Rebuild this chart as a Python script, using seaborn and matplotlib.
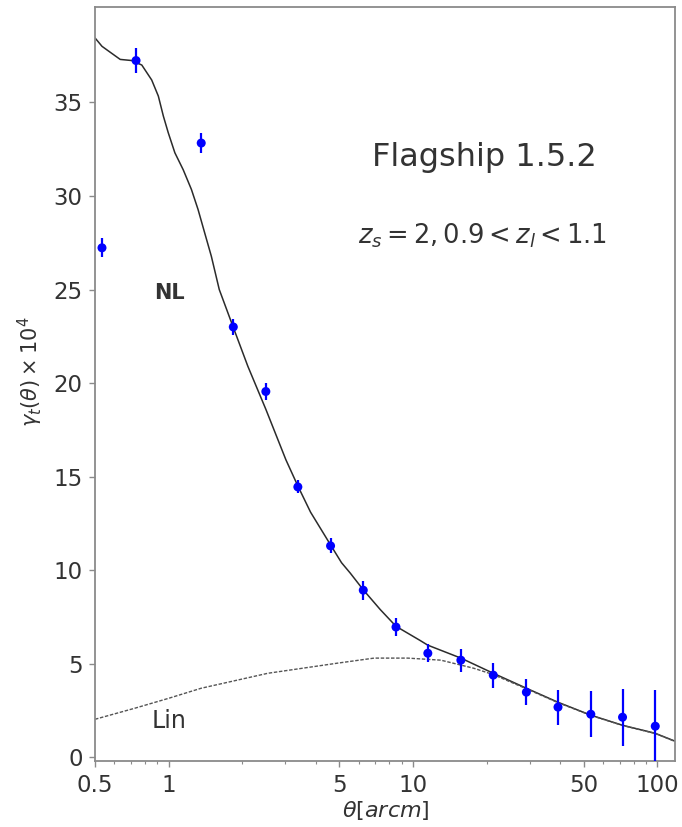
import numpy as np
import pandas as pd
import matplotlib
matplotlib.use("Agg")
import matplotlib.pyplot as plt
from matplotlib.ticker import FixedLocator, FixedFormatter, NullFormatter
import seaborn as sns

# Measured tangential shear (Flagship 1.5.2), theta in arcmin
theta_pts = [0.534, 0.736, 1.36, 1.84, 2.50, 3.38, 4.60, 6.26, 8.52,
             11.5, 15.7, 21.3, 29.1, 39.2, 53.4, 72.0, 98.0]
gamma_pts = [27.23, 37.24, 32.83, 23.0, 19.55, 14.45, 11.3, 8.93, 6.96,
             5.56, 5.19, 4.39, 3.48, 2.68, 2.30, 2.14, 1.66]
gamma_err = [0.50, 0.65, 0.55, 0.45, 0.45, 0.35, 0.40, 0.50, 0.50,
             0.49, 0.62, 0.67, 0.71, 0.94, 1.22, 1.52, 1.93]

# Non-linear model prediction
theta_nl = [0.5, 0.534, 0.569, 0.634, 0.707, 0.777, 0.853, 0.908, 0.952,
            0.997, 1.061, 1.148, 1.240, 1.320, 1.405, 1.496, 1.612, 1.837,
            2.11, 2.50, 3.02, 3.38, 3.81, 4.6, 5.1, 5.54, 6.26, 7.34, 8.52,
            10.67, 11.5, 15.7, 21.3, 29.1, 39.2, 53.4, 72.0, 98.0, 118.0]
gamma_nl = [38.45, 38.0, 37.74, 37.3, 37.24, 37.0, 36.2, 35.34, 34.27,
            33.38, 32.31, 31.4, 30.35, 29.28, 28.03, 26.78, 25.0, 23.0,
            20.9, 18.6, 15.9, 14.5, 13.1, 11.35, 10.4, 9.84, 8.95, 7.9, 7.0,
            6.25, 5.99, 5.30, 4.49, 3.69, 2.94, 2.25, 1.71, 1.28, 0.86]

# Linear model prediction
theta_lin = [0.5, 0.727, 1.0, 1.36, 2.55, 4.91, 6.93, 9.52, 13.0, 17.7,
             21.3, 29.1, 39.2, 53.4, 72.0, 98.0, 118.0]
gamma_lin = [2.03, 2.62, 3.15, 3.69, 4.49, 5.03, 5.3, 5.3, 5.19, 4.76,
             4.42, 3.66, 2.92, 2.24, 1.70, 1.27, 0.85]

x_ticks = [0.5, 1, 5, 10, 50, 100]
x_tick_labels = ["0.5", "1", "5", "10", "50", "100"]
y_ticks = [0, 5, 10, 15, 20, 25, 30, 35]

sns.set_style("white")
plt.rcParams["font.family"] = ["DejaVu Sans"]
plt.rcParams["mathtext.fontset"] = "dejavusans"

fig = plt.figure(figsize=(6.82, 8.27), dpi=100)
ax = fig.add_axes([0.1393, 0.0798, 0.8504, 0.9117])

df_nl = pd.DataFrame({"theta": theta_nl, "gamma": gamma_nl})
df_lin = pd.DataFrame({"theta": theta_lin, "gamma": gamma_lin})
df_pts = pd.DataFrame({"theta": theta_pts, "gamma": gamma_pts, "err": gamma_err})

sns.lineplot(data=df_nl, x="theta", y="gamma", ax=ax, color="#2b2b2b",
             linewidth=1.1, sort=False, estimator=None)
sns.lineplot(data=df_lin, x="theta", y="gamma", ax=ax, color="#555555",
             linewidth=1.0, linestyle=(0, (2.5, 1.2)), sort=False, estimator=None)
ax.errorbar(df_pts["theta"], df_pts["gamma"], yerr=df_pts["err"], fmt="none",
            ecolor="#0000ff", elinewidth=1.6, capsize=0, zorder=3)
sns.scatterplot(data=df_pts, x="theta", y="gamma", ax=ax, color="#0000ff",
                s=42, edgecolor="none", zorder=4)

ax.set_xscale("log")
ax.set_xlim(0.5, 118)
ax.set_ylim(-0.2, 40.1)
ax.xaxis.set_major_locator(FixedLocator(x_ticks))
ax.xaxis.set_major_formatter(FixedFormatter(x_tick_labels))
ax.xaxis.set_minor_formatter(NullFormatter())
ax.set_yticks(y_ticks)

text_color = "#333333"
for side in ["left", "right", "top", "bottom"]:
    ax.spines[side].set_visible(True)
    ax.spines[side].set_color("#8a8a8a")
    ax.spines[side].set_linewidth(1.3)
ax.tick_params(axis="both", which="major", direction="out", length=4, width=1,
               color="#8a8a8a", labelsize=16.5, labelcolor=text_color, pad=5)
ax.tick_params(axis="x", which="minor", direction="out", length=2.5, width=0.8,
               color="#8a8a8a", bottom=True)
ax.tick_params(axis="x", which="major", bottom=True)
ax.tick_params(axis="y", which="major", left=True)

ax.set_xlabel(r"$\theta[arcm]$", fontsize=16, color=text_color)
ax.xaxis.set_label_coords(0.502, -0.051)
ax.set_ylabel(r"$\gamma_t(\theta)\times10^4$", fontsize=15, color=text_color)
ax.yaxis.set_label_coords(-0.086, 0.516)

ax.text(0.672, 0.80, "Flagship 1.5.2", transform=ax.transAxes, ha="center",
        va="center", fontsize=23, color=text_color)
ax.text(0.669, 0.697, r"$z_s=2, 0.9<z_l<1.1$", transform=ax.transAxes,
        ha="center", va="center", fontsize=18.5, color=text_color)
ax.text(1.01, 24.8, "NL", ha="center", va="center", fontsize=15,
        fontweight="bold", color=text_color)
ax.text(1.0, 1.93, "Lin", ha="center", va="center", fontsize=17,
        color=text_color)

fig.savefig("out.png", dpi=100)
